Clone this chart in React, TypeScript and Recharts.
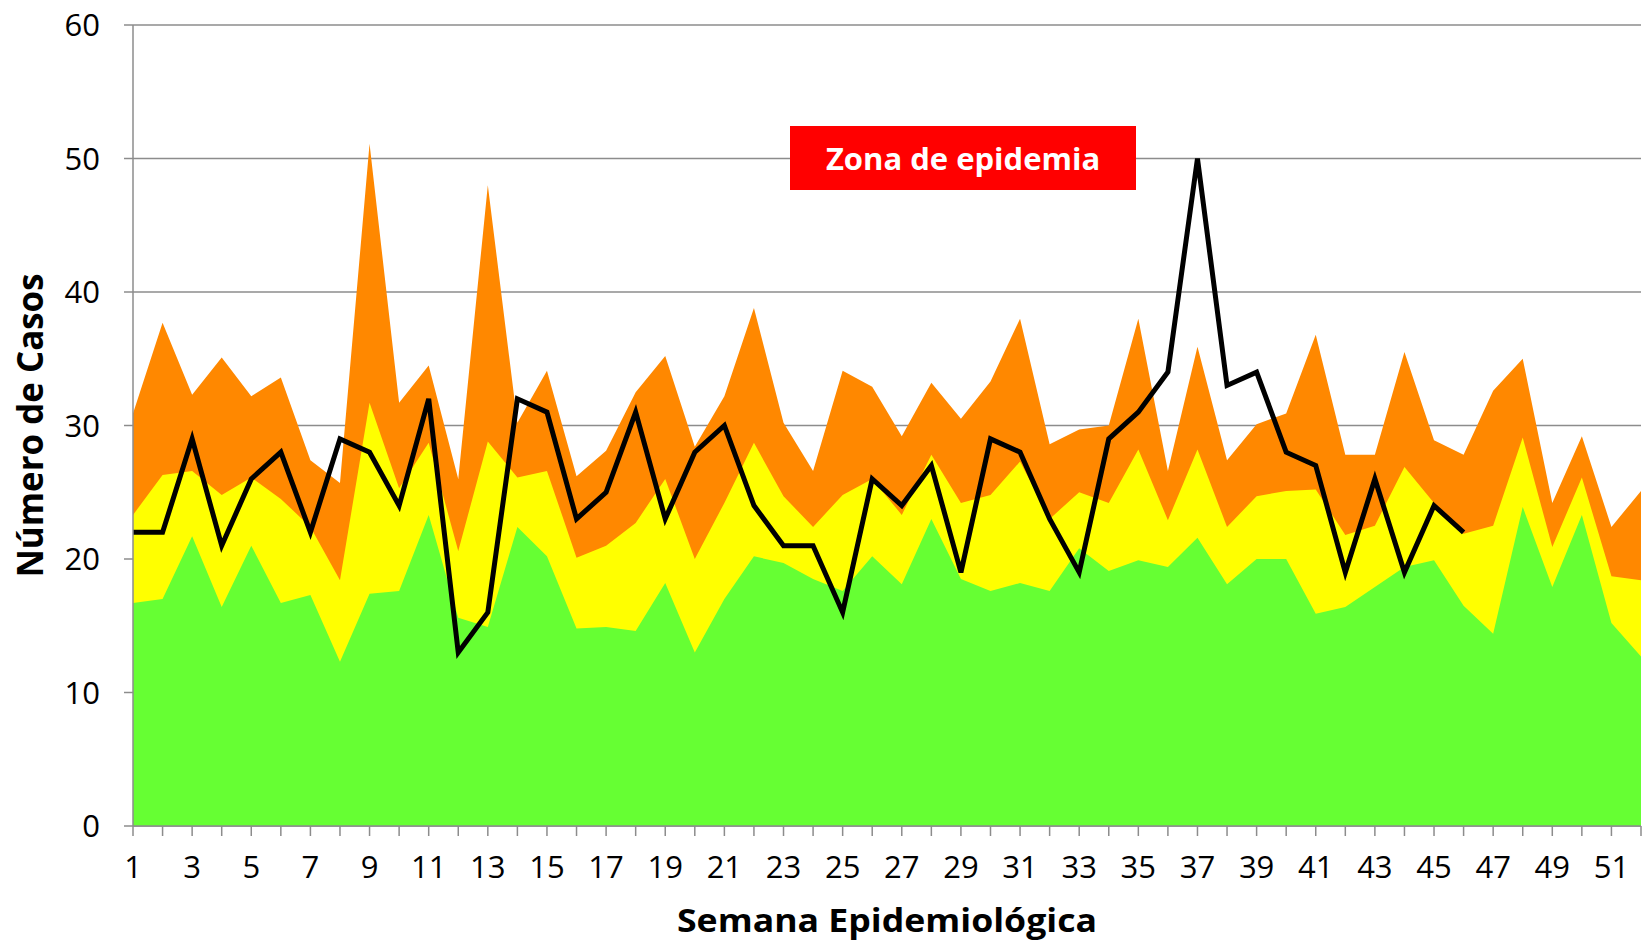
import React from 'react'
import { ComposedChart, Area, Line, XAxis, YAxis, CartesianGrid } from 'recharts'

// Canal endémico: semanas epidemiológicas 1-52
const weeks = Array.from({ length: 52 }, (_, i) => i + 1)

// upper limit of each zone (cumulative)
const exito = [
  16.7, 17.0, 21.7, 16.4, 21.0, 16.7, 17.3, 12.3, 17.4, 17.6, 23.3, 15.6, 14.9,
  22.4, 20.2, 14.8, 14.9, 14.6, 18.2, 13.0, 17.0, 20.2, 19.7, 18.5, 17.6, 20.2,
  18.1, 23.0, 18.5, 17.6, 18.2, 17.6, 20.8, 19.1, 19.9, 19.4, 21.6, 18.1, 20.0,
  20.0, 15.9, 16.4, 17.9, 19.4, 19.9, 16.5, 14.4, 23.9, 17.9, 23.3, 15.2, 12.7,
]
const seguridad = [
  23.3, 26.3, 26.6, 24.8, 26.1, 24.5, 22.4, 18.4, 31.7, 25.3, 28.7, 20.6, 28.8,
  26.1, 26.6, 20.1, 21.0, 22.7, 26.0, 20.0, 24.2, 28.7, 24.7, 22.4, 24.8, 26.0,
  23.3, 27.8, 24.2, 24.8, 27.3, 23.0, 25.0, 24.2, 28.2, 22.9, 28.2, 22.4, 24.7,
  25.1, 25.2, 21.8, 22.5, 26.9, 24.2, 21.9, 22.5, 29.1, 20.9, 26.1, 18.7, 18.4,
]
const alarma = [
  30.9, 37.7, 32.3, 35.1, 32.2, 33.6, 27.4, 25.7, 51.1, 31.7, 34.5, 26.0, 48.0,
  30.2, 34.1, 26.2, 28.1, 32.5, 35.2, 28.4, 32.2, 38.8, 30.2, 26.6, 34.1, 32.9,
  29.2, 33.2, 30.5, 33.3, 38.0, 28.6, 29.7, 30.0, 38.0, 26.6, 35.9, 27.4, 30.1,
  30.9, 36.8, 27.8, 27.8, 35.5, 28.9, 27.8, 32.6, 35.0, 24.2, 29.2, 22.4, 25.1,
]
// casos observados (semanas 1-46)
const casos = [
  22, 22, 29, 21, 26, 28, 22, 29, 28, 24, 32, 13, 16, 32, 31, 23, 25, 31, 23,
  28, 30, 24, 21, 21, 16, 26, 24, 27, 19, 29, 28, 23, 19, 29, 31, 34, 50, 33,
  34, 28, 27, 19, 26, 19, 24, 22,
]
const yTicks = [0, 10, 20, 30, 40, 50, 60]

const data = weeks.map((w, i) => ({
  semana: w,
  exito: exito[i],
  seguridad: seguridad[i],
  alarma: alarma[i],
  casos: i < casos.length ? casos[i] : null,
}))

const GRAY = '#8c8c8c'
const tickStyle = { fontFamily: 'Open Sans', fontSize: 31, fill: '#000' }

export default function App() {
  return (
    <div style={{ position: 'absolute', left: 0, top: 0, width: 1644, height: 942, background: '#fff' }}>
      <ComposedChart
        width={1644}
        height={942}
        data={data}
        margin={{ top: 25, right: 3, left: 0, bottom: 0 }}
      >
        <CartesianGrid vertical={false} stroke={GRAY} strokeWidth={1.5} />
        <XAxis
          dataKey="semana"
          type="number"
          domain={[1, 52]}
          ticks={weeks}
          interval={0}
          height={116}
          tickFormatter={(v: number) => (v % 2 === 1 ? String(v) : '')}
          tick={tickStyle}
          tickSize={10}
          tickMargin={20}
          stroke={GRAY}
          strokeWidth={1.5}
          label={{
            content: (props: any) => {
              const vb = props.viewBox || { x: 133, y: 826, width: 1508, height: 116 }
              return (
                <text
                  x={vb.x + vb.width / 2}
                  y={932}
                  textAnchor="middle"
                  fontFamily="Open Sans"
                  fontWeight="bold"
                  fontSize={33}
                  textLength={420}
                  lengthAdjust="spacingAndGlyphs"
                  fill="#000"
                >
                  Semana Epidemiológica
                </text>
              )
            },
          }}
        />
        <YAxis
          type="number"
          domain={[0, 60]}
          ticks={yTicks}
          interval={0}
          width={133}
          tick={tickStyle}
          tickSize={9}
          tickMargin={24}
          stroke={GRAY}
          strokeWidth={1.5}
          label={{
            content: (props: any) => {
              const vb = props.viewBox || { x: 0, y: 25, width: 133, height: 801 }
              const cy = vb.y + vb.height / 2
              return (
                <text
                  x={29}
                  y={cy}
                  transform={`rotate(-90 29 ${cy})`}
                  textAnchor="middle"
                  dominantBaseline="central"
                  fontFamily="Open Sans"
                  fontWeight="bold"
                  fontSize={36}
                  textLength={304}
                  lengthAdjust="spacingAndGlyphs"
                  fill="#000"
                >
                  Número de Casos
                </text>
              )
            },
          }}
        />
        <Area dataKey="alarma" type="linear" stroke="none" fill="#ff8800" fillOpacity={1} isAnimationActive={false} />
        <Area dataKey="seguridad" type="linear" stroke="none" fill="#ffff00" fillOpacity={1} isAnimationActive={false} />
        <Area dataKey="exito" type="linear" stroke="none" fill="#66ff33" fillOpacity={1} isAnimationActive={false} />
        <Line
          dataKey="casos"
          type="linear"
          stroke="#000"
          strokeWidth={5}
          dot={false}
          activeDot={false}
          connectNulls={false}
          isAnimationActive={false}
        />
      </ComposedChart>
      <div
        style={{
          position: 'absolute',
          left: 790,
          top: 126,
          width: 346,
          height: 64,
          background: '#ff0000',
          color: '#fff',
          fontFamily: 'Open Sans',
          fontWeight: 'bold',
          fontSize: 31,
          display: 'flex',
          alignItems: 'center',
          justifyContent: 'center',
        }}
      >
        Zona de epidemia
      </div>
    </div>
  )
}
